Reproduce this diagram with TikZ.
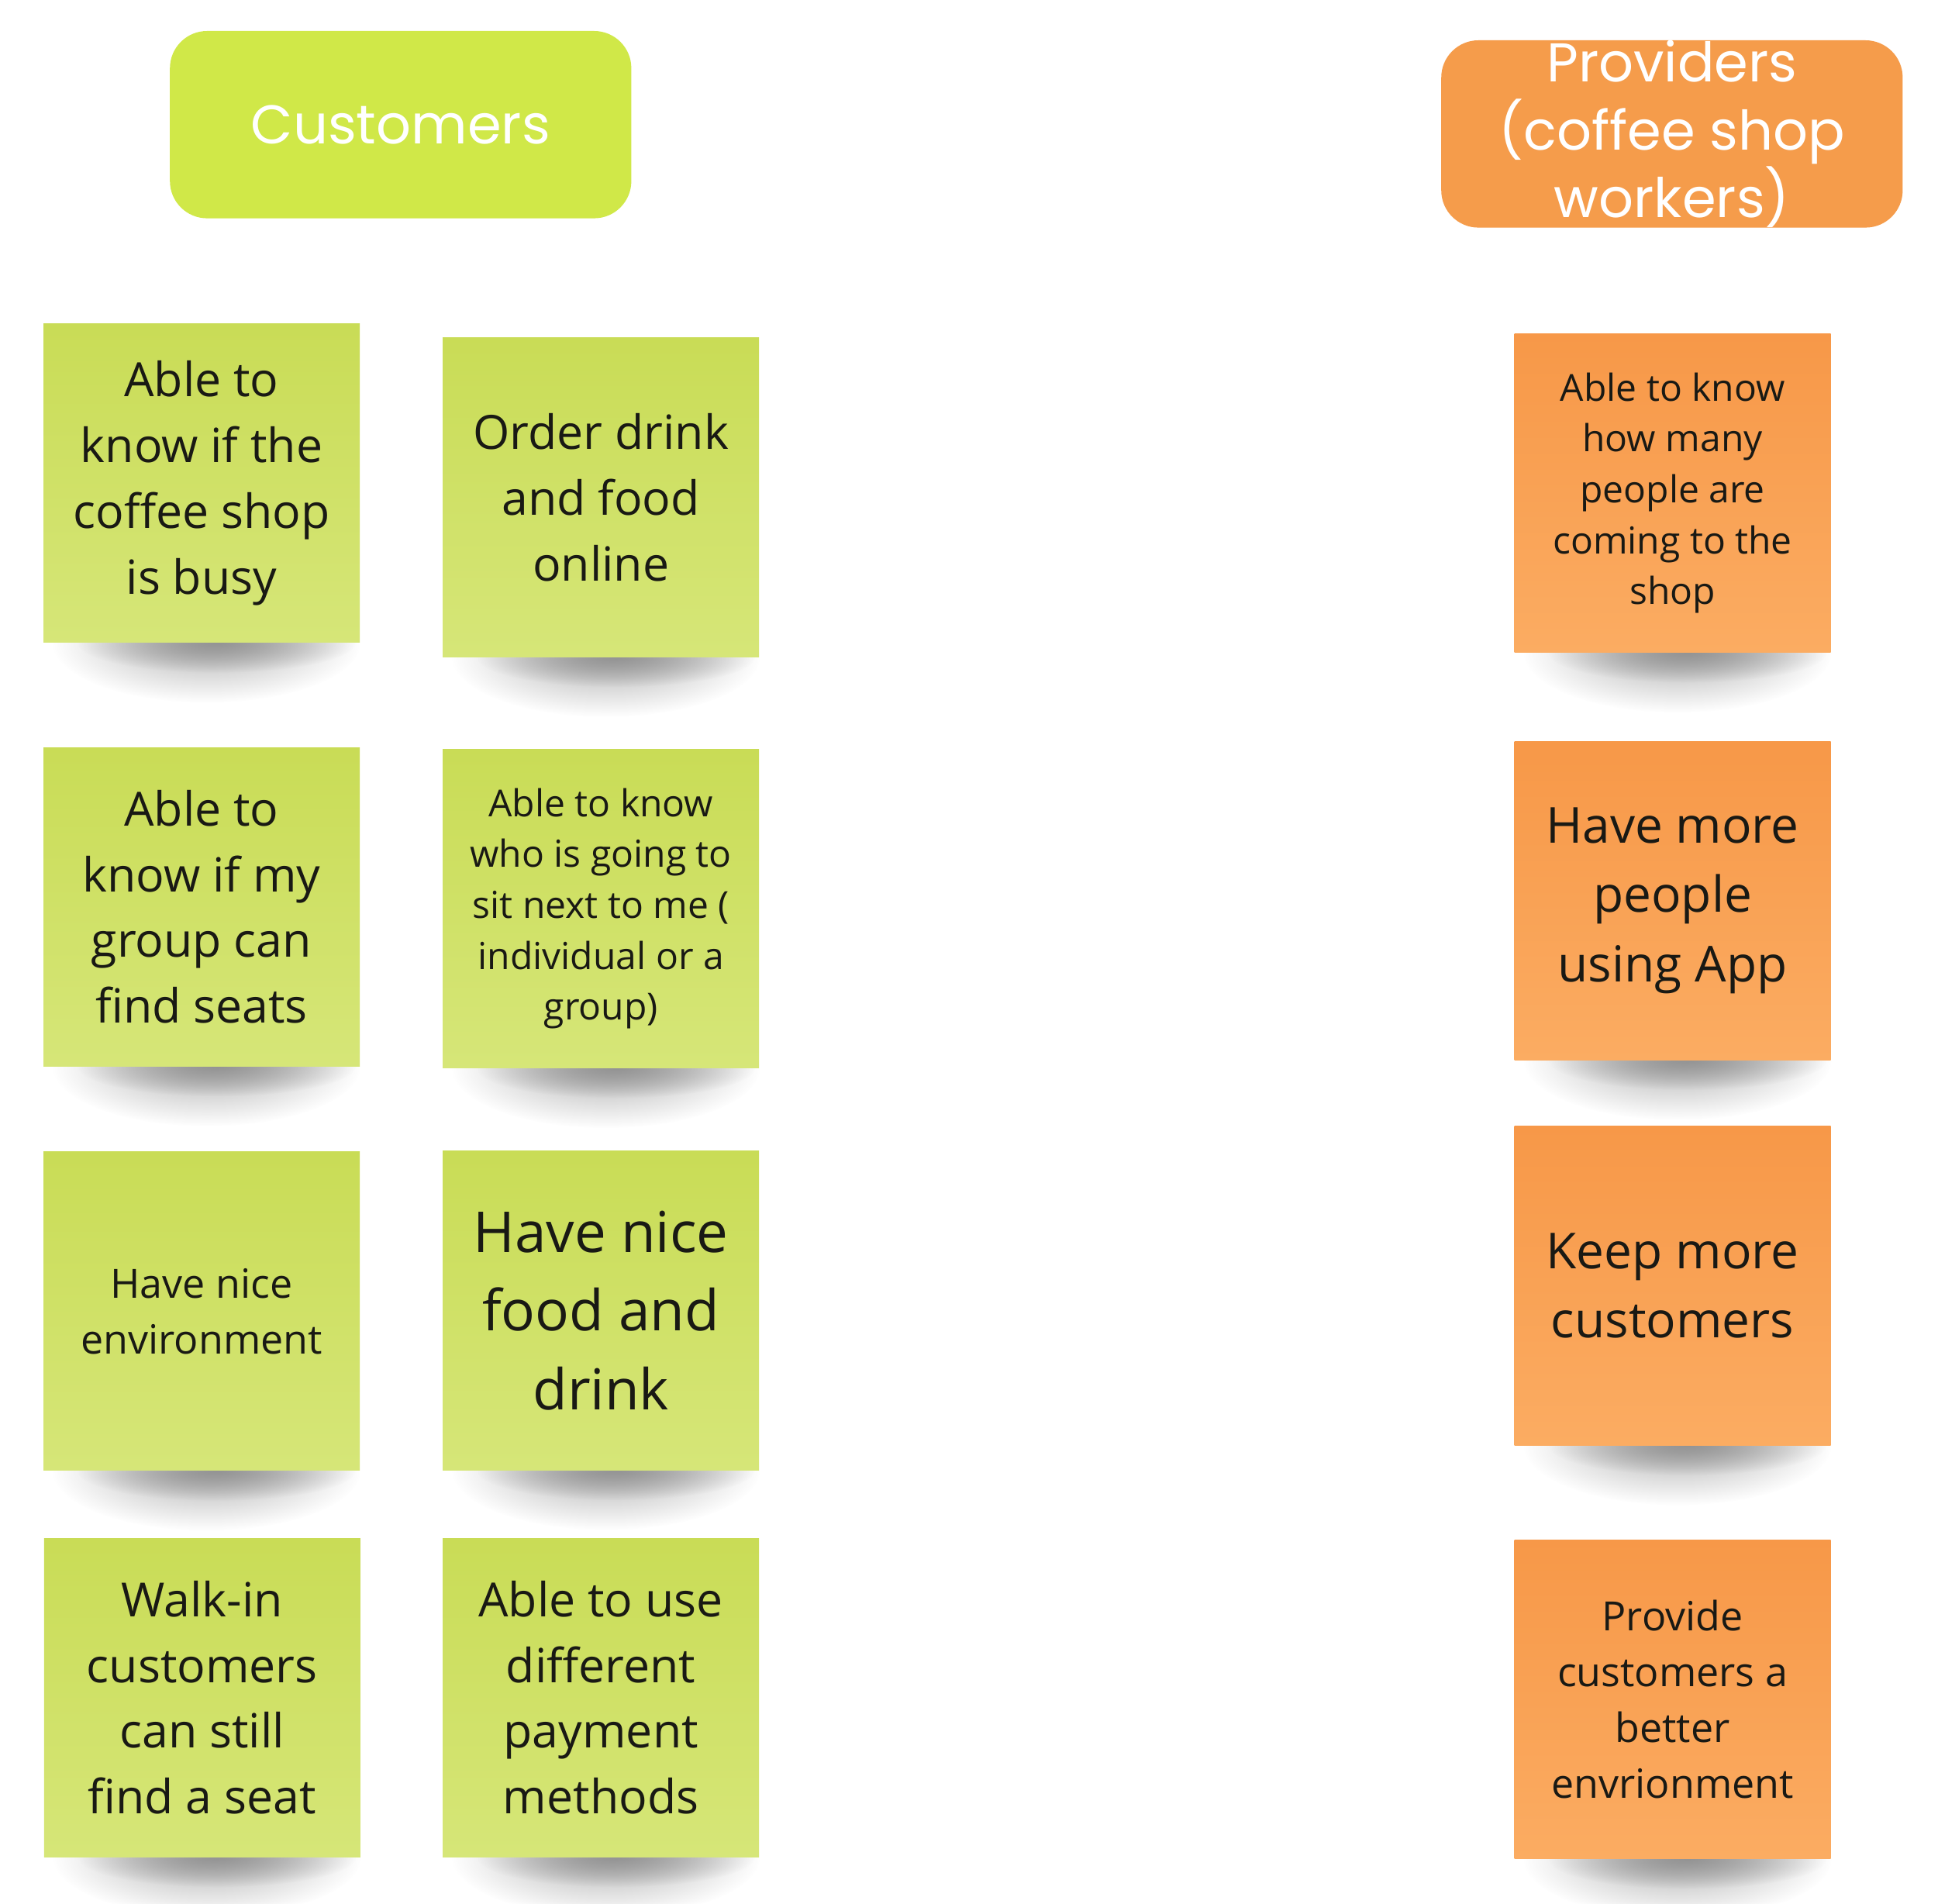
\documentclass[tikz,border=0pt]{standalone}
\usepackage{fontspec}
\setmainfont{Open Sans}
\newfontfamily\headfont{Poppins}
\usetikzlibrary{positioning,fadings,backgrounds}

\definecolor{headgreen}{RGB}{208,232,72}
\definecolor{headorange}{RGB}{245,156,75}
\definecolor{greentop}{RGB}{201,220,86}
\definecolor{greenbot}{RGB}{214,230,120}
\definecolor{orangetop}{RGB}{247,152,72}
\definecolor{orangebot}{RGB}{251,172,98}
\definecolor{ink}{RGB}{25,25,20}

\tikzfading[name=softshadow, inner color=transparent!0, outer color=transparent!100]

\tikzset{
  header/.style={rounded corners=15pt, minimum width=186pt, minimum height=75.5pt,
    text=white, align=center, inner sep=0pt, font=\headfont\fontsize{22}{27.25}\selectfont},
  note/.style={minimum width=127.5pt, minimum height=128.5pt, align=center,
    text=ink, inner sep=0pt},
  greennote/.style={note, top color=greentop, bottom color=greenbot},
  orangenote/.style={note, top color=orangetop, bottom color=orangebot},
  txtxs/.style={font=\fontsize{15}{20.5}\selectfont},
  txts/.style={font=\fontsize{16.25}{22.5}\selectfont},
  txtm/.style={font=\fontsize{19}{26.5}\selectfont},
  txtl/.style={font=\fontsize{20}{28}\selectfont},
  txtxl/.style={font=\fontsize{22.75}{31.75}\selectfont},
  haze/.style={fill=black!30, path fading=softshadow},
  shadow/.style={fill=black!42, path fading=softshadow}
}

\begin{document}
\begin{tikzpicture}[x=0.5pt, y=-0.5pt]
  \useasboundingbox (0,0) rectangle (1562.5,1534.4);

  % headers
  \node[header, fill=headgreen] (customers) at (323,100.5) {Customers};
  \node[header, fill=headorange] (providers) at (1348,108) {Providers\\(coffee shop\\workers)};

  % customers
  \node[greennote, txtm] (busy) at (162.5,389.5) {Able to\\know if the\\coffee shop\\is busy};
  \node[greennote, txtm] (order) at (484.5,401) {Order drink\\and food\\online};
  \node[greennote, txtm] (groupseats) at (162.5,731) {Able to\\know if my\\group can\\find seats};
  \node[greennote, txtxs] (neighbour) at (484.5,732.5) {Able to know\\who is going to\\sit next to me (\\individual or a\\group)};
  \node[greennote, txts] (environment) at (162.5,1057) {Have nice\\environment};
  \node[greennote, txtxl] (fooddrink) at (484.5,1056.5) {Have nice\\food and\\drink};
  \node[greennote, txtm] (walkin) at (163,1368.5) {Walk-in\\customers\\can still\\find a seat};
  \node[greennote, txtm] (payment) at (484.5,1368.5) {Able to use\\different\\payment\\methods};

  % providers
  \node[orangenote, txtxs] (crowd) at (1348.5,397.5) {Able to know\\how many\\people are\\coming to the\\shop};
  \node[orangenote, txtl] (appusers) at (1348.5,726) {Have more\\people\\using App};
  \node[orangenote, txtl] (keepcust) at (1348.5,1036.5) {Keep more\\customers};
  \node[orangenote, txts] (betterenv) at (1348.5,1370) {Provide\\customers a\\better\\envrionment};

  \begin{scope}[on background layer]
    \fill[white] (0,0) rectangle (1562.5,1534.4);
    \foreach \n in {busy,order,groupseats,neighbour,environment,fooddrink,walkin,payment,
                    crowd,appusers,keepcust,betterenv}{
      \fill[haze] ([xshift=2pt]\n.south) ellipse [x radius=62pt, y radius=24pt];
      \fill[shadow] ([xshift=6pt]\n.south) ellipse [x radius=56pt, y radius=12pt];
    }
  \end{scope}
\end{tikzpicture}
\end{document}
